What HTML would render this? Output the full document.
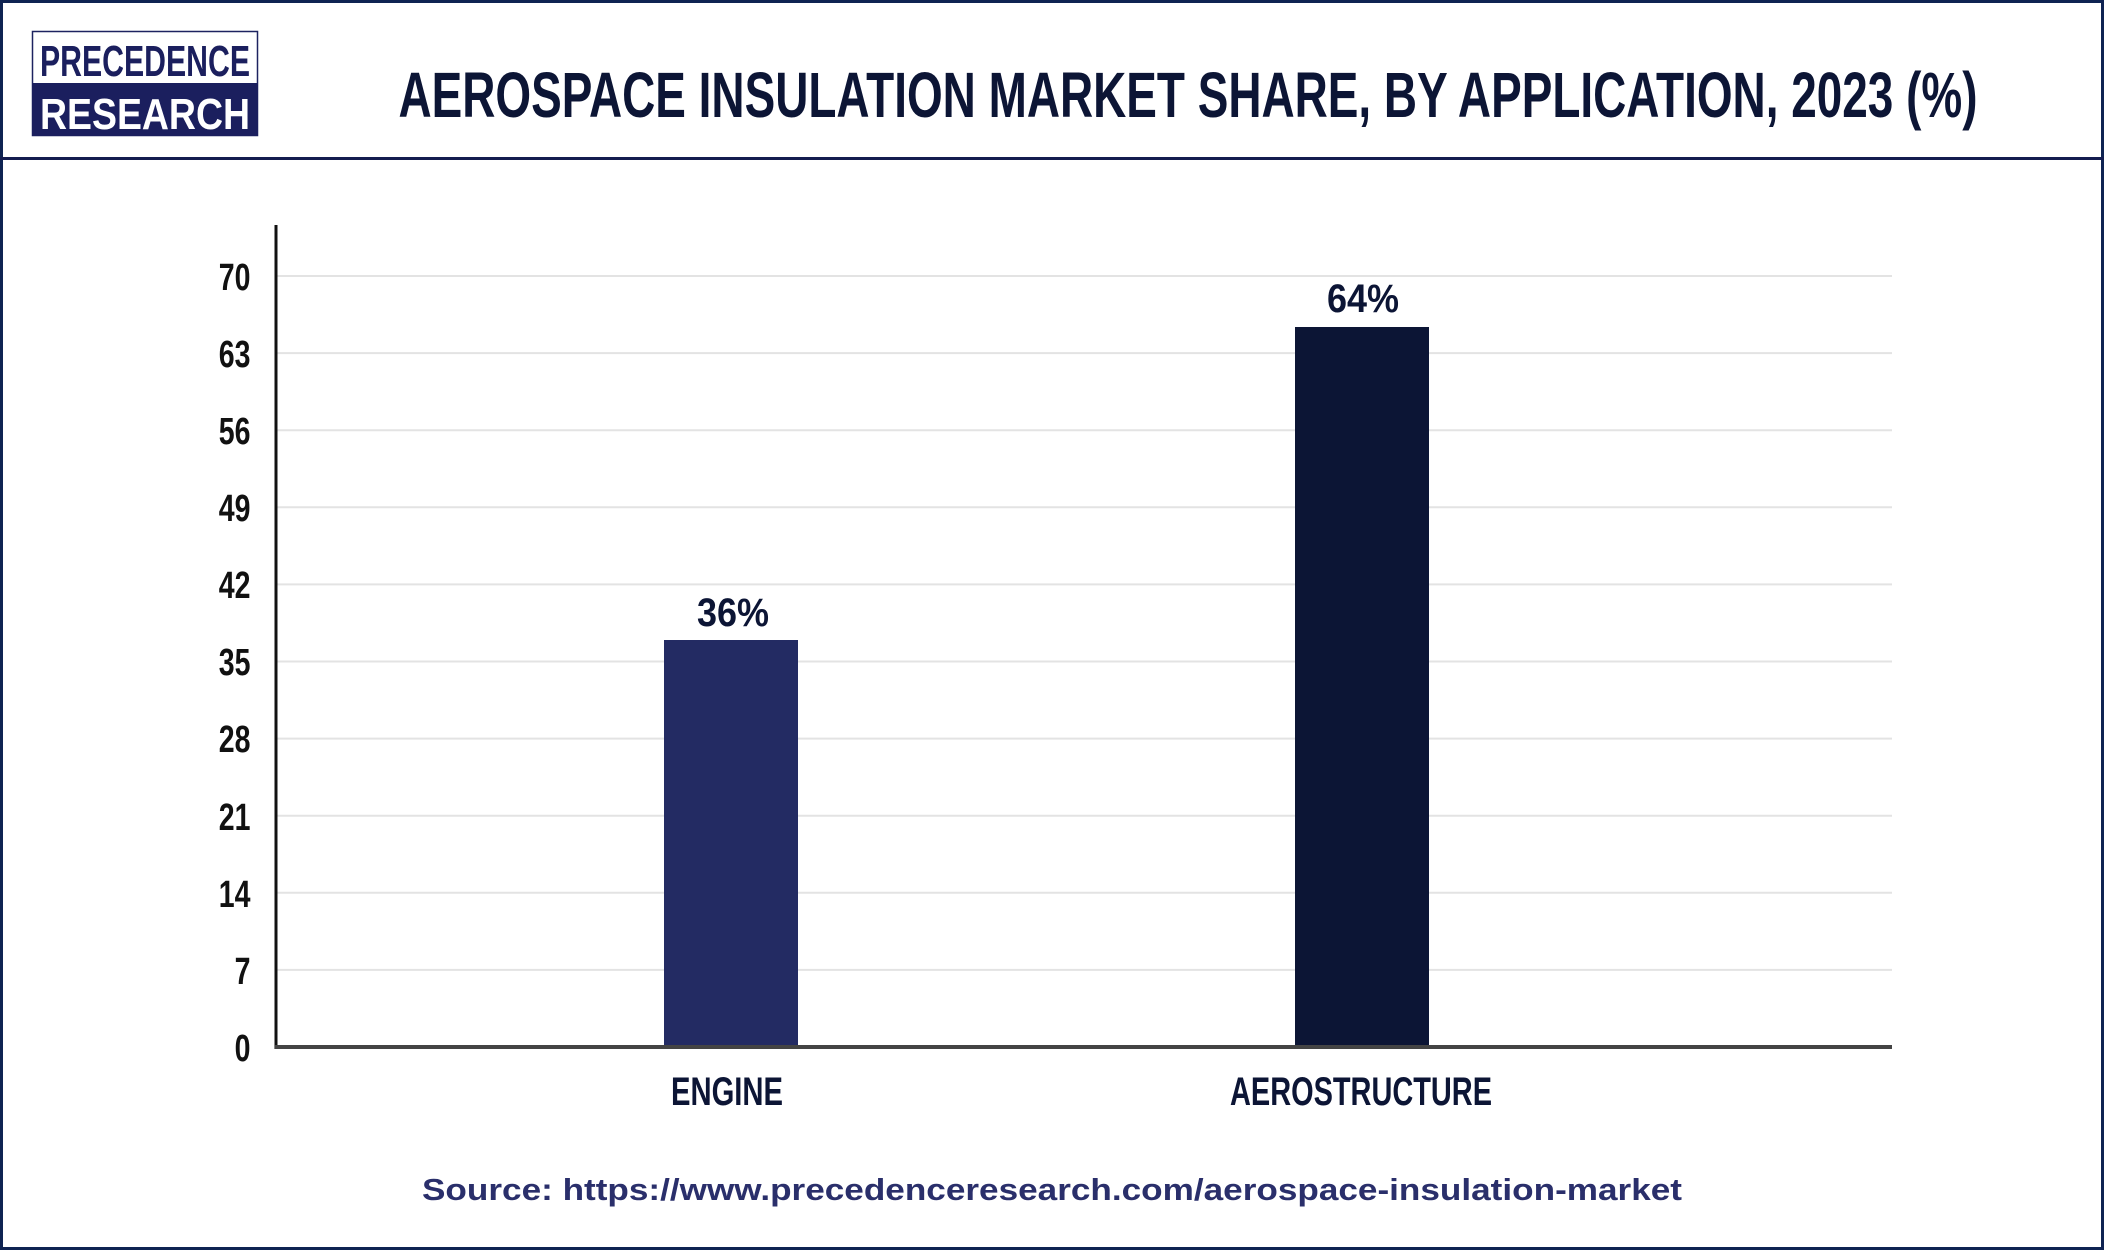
<!DOCTYPE html>
<html><head><meta charset="utf-8"><style>
html,body{margin:0;padding:0;background:#fff;}
svg{display:block;}
</style></head><body>
<svg width="2104" height="1250" viewBox="0 0 2104 1250" xmlns="http://www.w3.org/2000/svg" font-family="'Liberation Sans', sans-serif">
<rect x="0" y="0" width="2104" height="1250" fill="#fff"/>
<rect x="1.5" y="1.5" width="2101" height="1247" fill="none" stroke="#0f2352" stroke-width="3"/>
<rect x="0" y="157" width="2104" height="3" fill="#141c4f"/>
<!-- logo -->
<rect x="32.5" y="31.5" width="225" height="104" fill="#fff" stroke="#1d2360" stroke-width="1.5"/>
<rect x="32" y="83" width="226" height="53" fill="#1b1f5e"/>
<text x="145" y="76" text-anchor="middle" font-size="44" font-weight="bold" fill="#1b1f5e" textLength="210" lengthAdjust="spacingAndGlyphs">PRECEDENCE</text>
<text x="145" y="129" text-anchor="middle" font-size="44" font-weight="bold" fill="#fff" textLength="210" lengthAdjust="spacingAndGlyphs">RESEARCH</text>
<!-- title -->
<text x="1188" y="117" text-anchor="middle" font-size="64" font-weight="bold" fill="#0c1535" textLength="1579" lengthAdjust="spacingAndGlyphs">AEROSPACE INSULATION MARKET SHARE, BY APPLICATION, 2023 (%)</text>
<!-- grid -->
<g stroke="#e3e3e3" stroke-width="2">
<line x1="277" x2="1892" y1="276" y2="276"/>
<line x1="277" x2="1892" y1="353.1" y2="353.1"/>
<line x1="277" x2="1892" y1="430.2" y2="430.2"/>
<line x1="277" x2="1892" y1="507.3" y2="507.3"/>
<line x1="277" x2="1892" y1="584.4" y2="584.4"/>
<line x1="277" x2="1892" y1="661.5" y2="661.5"/>
<line x1="277" x2="1892" y1="738.6" y2="738.6"/>
<line x1="277" x2="1892" y1="815.7" y2="815.7"/>
<line x1="277" x2="1892" y1="892.8" y2="892.8"/>
<line x1="277" x2="1892" y1="969.9" y2="969.9"/>
</g>
<!-- bars -->
<rect x="664" y="640" width="134" height="407" fill="#232b63"/>
<rect x="1295" y="327" width="134" height="720" fill="#0c1535"/>
<!-- axes -->
<line x1="276" y1="225" x2="276" y2="1049" stroke="#111" stroke-width="3"/>
<line x1="275" y1="1047" x2="1892" y2="1047" stroke="#444" stroke-width="4"/>
<!-- tick labels -->
<g transform="scale(0.75,1)" font-size="38" font-weight="bold" fill="#111" text-anchor="end">
<text x="334" y="290">70</text>
<text x="334" y="367">63</text>
<text x="334" y="444">56</text>
<text x="334" y="521">49</text>
<text x="334" y="598">42</text>
<text x="334" y="675">35</text>
<text x="334" y="752">28</text>
<text x="334" y="830">21</text>
<text x="334" y="907">14</text>
<text x="334" y="984">7</text>
<text x="334" y="1061">0</text>
</g>
<!-- value labels -->
<g font-size="40" font-weight="bold" fill="#0c1535" text-anchor="middle">
<text x="733" y="626" textLength="72" lengthAdjust="spacingAndGlyphs">36%</text>
<text x="1363" y="312" textLength="72" lengthAdjust="spacingAndGlyphs">64%</text>
</g>
<!-- x labels -->
<g font-size="40" font-weight="bold" fill="#0c1535" text-anchor="middle">
<text x="727" y="1105" textLength="112" lengthAdjust="spacingAndGlyphs">ENGINE</text>
<text x="1361" y="1105" textLength="262" lengthAdjust="spacingAndGlyphs">AEROSTRUCTURE</text>
</g>
<!-- source -->
<text x="1052" y="1200" text-anchor="middle" font-size="31" font-weight="bold" fill="#2a2f6b" textLength="1260" lengthAdjust="spacingAndGlyphs">Source: https://www.precedenceresearch.com/aerospace-insulation-market</text>
</svg>
</body></html>
